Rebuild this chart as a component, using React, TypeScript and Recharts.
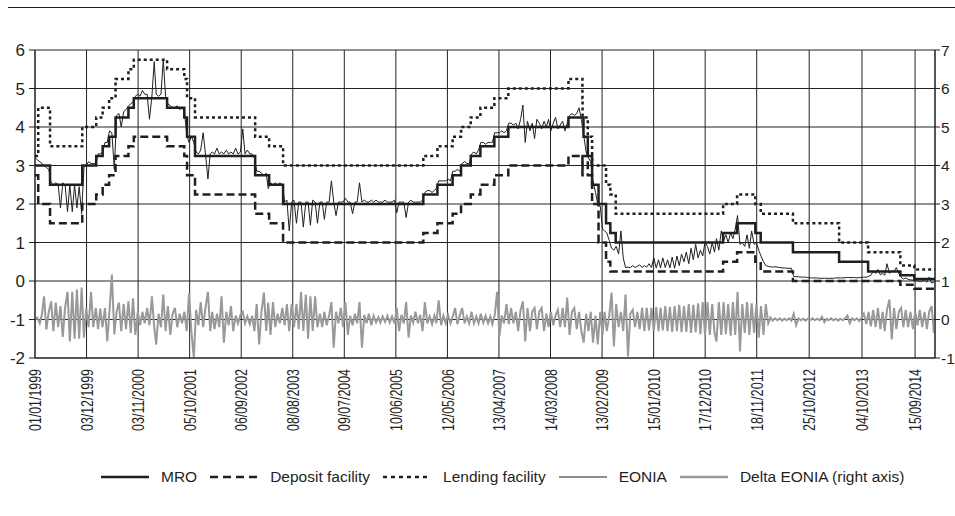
import React from 'react';
import { LineChart, Line, XAxis, YAxis, CartesianGrid } from 'recharts';

// ECB key rates, one row per change date (% p.a.)
const rateDates = [
  '1999-01-01', '1999-01-22', '1999-04-09', '1999-11-05', '2000-02-04', '2000-03-17',
  '2000-04-28', '2000-06-09', '2000-09-01', '2000-10-06', '2001-05-11', '2001-08-31',
  '2001-09-18', '2001-11-09', '2002-12-06', '2003-03-07', '2003-06-06', '2005-12-06',
  '2006-03-08', '2006-06-15', '2006-08-09', '2006-10-11', '2006-12-13', '2007-03-14',
  '2007-06-13', '2008-07-09', '2008-10-08', '2008-10-09', '2008-10-15', '2008-11-12',
  '2008-12-10', '2009-01-21', '2009-03-11', '2009-04-08', '2009-05-13', '2011-04-13',
  '2011-07-13', '2011-11-09', '2011-12-14', '2012-07-11', '2013-05-08', '2013-11-13',
  '2014-06-11', '2014-09-10', '2015-01-23',
];
const mroRate = [
  3.0, 3.0, 2.5, 3.0, 3.25, 3.5, 3.75, 4.25, 4.5, 4.75, 4.5, 4.25, 3.75, 3.25, 2.75,
  2.5, 2.0, 2.25, 2.5, 2.75, 3.0, 3.25, 3.5, 3.75, 4.0, 4.25, 4.25, 4.25, 3.75, 3.25,
  2.5, 2.0, 1.5, 1.25, 1.0, 1.25, 1.5, 1.25, 1.0, 0.75, 0.5, 0.25, 0.15, 0.05, 0.05,
];
const depositRate = [
  2.75, 2.0, 1.5, 2.0, 2.25, 2.5, 2.75, 3.25, 3.5, 3.75, 3.5, 3.25, 2.75, 2.25, 1.75,
  1.5, 1.0, 1.25, 1.5, 1.75, 2.0, 2.25, 2.5, 2.75, 3.0, 3.25, 2.75, 3.25, 3.25, 2.75,
  2.0, 1.0, 0.5, 0.25, 0.25, 0.5, 0.75, 0.5, 0.25, 0.0, 0.0, 0.0, -0.1, -0.2, -0.2,
];
const lendingRate = [
  3.25, 4.5, 3.5, 4.0, 4.25, 4.5, 4.75, 5.25, 5.5, 5.75, 5.5, 5.25, 4.75, 4.25, 3.75,
  3.5, 3.0, 3.25, 3.5, 3.75, 4.0, 4.25, 4.5, 4.75, 5.0, 5.25, 4.75, 4.25, 4.25, 3.75,
  3.0, 3.0, 2.5, 2.25, 1.75, 2.0, 2.25, 2.0, 1.75, 1.5, 1.0, 0.75, 0.4, 0.3, 0.3,
];

// EONIA, read on the 1st and 16th of every month, one row per year from 1999
const eoniaRows = [
  [3.2, 3.15, 3.1, 3.05, 3.0, 2.95, 2.9, 2.55, 2.5, 2.55, 2.5, 1.9, 2.55, 2.5, 1.8, 2.5, 1.8, 2.5, 1.9, 2.45, 1.75, 2.95, 3.0, 3.1],
  [3.05, 3.05, 3.05, 3.3, 3.3, 3.35, 3.6, 3.6, 3.9, 3.85, 2.9, 4.3, 4.35, 4.0, 4.4, 4.45, 4.55, 4.6, 4.65, 4.8, 4.85, 4.8, 4.95, 4.85],
  [4.85, 4.2, 4.8, 5.7, 4.85, 4.8, 4.85, 5.75, 4.8, 4.6, 4.55, 4.5, 4.5, 4.55, 4.45, 4.5, 4.4, 3.8, 3.6, 3.75, 3.6, 3.35, 3.3, 3.4],
  [3.85, 3.3, 2.65, 3.3, 3.35, 3.3, 3.45, 3.3, 3.35, 3.3, 3.4, 3.3, 3.35, 3.3, 3.45, 3.3, 3.35, 3.95, 3.3, 3.4, 3.3, 3.3, 3.2, 2.85],
  [2.85, 2.8, 2.75, 2.8, 2.4, 2.55, 2.5, 2.55, 2.5, 2.55, 2.5, 2.05, 2.1, 1.3, 2.05, 2.1, 1.5, 2.05, 2.05, 1.4, 2.05, 2.05, 1.45, 2.1],
  [2.05, 1.5, 2.05, 2.05, 1.6, 2.05, 2.05, 2.6, 2.05, 1.7, 2.05, 2.05, 2.05, 2.15, 2.05, 2.05, 1.75, 2.05, 2.05, 2.55, 2.05, 2.1, 2.05, 2.05],
  [2.1, 2.05, 2.1, 2.05, 2.05, 2.05, 2.1, 2.05, 2.05, 2.05, 2.1, 1.77, 2.05, 2.05, 2.05, 1.65, 2.05, 2.1, 2.05, 2.05, 2.05, 2.05, 2.1, 2.3],
  [2.35, 2.35, 2.3, 2.35, 2.4, 2.6, 2.6, 2.6, 2.6, 2.65, 2.6, 2.85, 2.85, 2.9, 2.85, 3.05, 3.1, 3.05, 3.05, 3.3, 3.35, 3.3, 3.4, 3.6],
  [3.6, 3.55, 3.6, 3.6, 3.6, 3.85, 3.85, 3.85, 3.9, 3.85, 3.9, 4.1, 4.1, 4.05, 4.1, 3.95, 4.2, 4.57, 3.6, 4.15, 3.9, 4.1, 3.7, 4.2],
  [4.1, 3.95, 4.15, 4.0, 4.2, 3.9, 4.1, 4.25, 3.95, 4.05, 4.15, 3.9, 4.1, 4.3, 4.35, 4.3, 4.35, 4.5, 4.2, 3.8, 3.35, 3.2, 3.1, 2.6],
  [2.3, 2.0, 1.95, 1.35, 1.3, 1.25, 1.05, 0.85, 0.8, 0.9, 0.7, 1.3, 0.6, 0.35, 0.36, 0.35, 0.4, 0.35, 0.38, 0.42, 0.35, 0.4, 0.36, 0.45],
  [0.35, 0.6, 0.34, 0.55, 0.34, 0.6, 0.35, 0.55, 0.34, 0.62, 0.33, 0.65, 0.4, 0.7, 0.5, 0.75, 0.45, 0.85, 0.55, 0.95, 0.6, 0.8, 0.65, 1.0],
  [0.9, 0.7, 1.0, 0.75, 1.1, 0.8, 1.3, 1.05, 1.2, 1.0, 1.25, 1.1, 1.35, 1.7, 0.95, 1.0, 0.9, 1.2, 0.85, 1.3, 0.95, 1.0, 0.8, 0.65],
  [0.5, 0.4, 0.38, 0.37, 0.36, 0.37, 0.36, 0.35, 0.34, 0.34, 0.33, 0.33, 0.33, 0.12, 0.11, 0.11, 0.1, 0.1, 0.1, 0.09, 0.08, 0.08, 0.08, 0.08],
  [0.07, 0.07, 0.07, 0.07, 0.07, 0.07, 0.07, 0.08, 0.08, 0.08, 0.08, 0.09, 0.09, 0.09, 0.09, 0.09, 0.08, 0.09, 0.09, 0.1, 0.1, 0.12, 0.15, 0.25],
  [0.2, 0.3, 0.16, 0.2, 0.15, 0.45, 0.2, 0.25, 0.25, 0.35, 0.2, 0.1, 0.05, 0.08, 0.04, 0.03, 0.02, 0.0, 0.01, -0.01, 0.0, 0.02, -0.03, 0.1],
  [-0.05, -0.03],
];

// Delta EONIA (right axis), same dates as eoniaRows
const deltaRows = [
  [0, 0.05, -0.1, 0.15, 0.6, -0.26, 0.2, 0.47, -0.3, 0.44, -0.2, 0.35, -0.45, 0.3, 0.72, -0.57, 0.72, -0.5, 0.78, -0.5, 0.83, -0.47, 0.3, -0.2],
  [0.72, -0.2, 0.3, -0.25, 0.28, -0.2, 0.3, -0.57, 0.25, 1.17, -0.39, 0.2, 0.44, -0.3, 0.4, -0.25, 0.47, -0.35, 0.55, -0.4, 0.2, -0.15, 0.2, -0.1],
  [0.3, -0.15, 0.6, -0.2, -0.65, 0.15, -0.2, 0.65, -0.3, 0.35, -0.4, 0.15, 0.3, -0.2, 0.15, -0.1, 0.2, -0.3, 0.68, -0.3, -1.0, 0.25, -0.15, 0.45],
  [-0.2, 0.3, 0.72, -0.3, 0.2, -0.25, 0.15, -0.2, 0.6, -0.6, 0.2, -0.15, 0.35, -0.3, 0.1, -0.1, 0.12, 0.2, -0.1, 0.08, -0.12, 0.1, -0.3, 0.4],
  [-0.65, 0.2, 0.7, -0.3, 0.44, -0.4, 0.45, -0.2, 0.15, -0.1, 0.3, -0.15, 0.4, -0.3, 0.4, -0.2, 0.4, -0.25, 0.72, -0.3, 0.65, -0.5, 0.6, -0.3],
  [0.6, -0.2, 0.15, -0.2, 0.2, -0.15, 0.1, 0.45, -0.73, 0.2, -0.1, 0.3, -0.2, 0.45, -0.4, 0.1, -0.15, 0.15, -0.1, 0.45, -0.73, 0.12, -0.1, 0.15],
  [-0.15, 0.1, -0.08, 0.06, -0.08, 0.08, -0.06, 0.1, -0.08, 0.08, -0.1, 0.3, -0.3, 0.12, -0.1, 0.45, -0.47, 0.1, -0.08, 0.2, -0.1, 0.12, -0.3, 0.45],
  [-0.1, 0.08, -0.12, 0.1, -0.1, 0.5, -0.15, 0.1, -0.1, 0.12, -0.1, 0.08, 0.3, -0.12, 0.1, 0.3, -0.1, 0.08, -0.1, 0.2, -0.1, 0.08, -0.1, 0.15],
  [-0.08, 0.1, -0.1, 0.08, -0.12, 0.1, 0.72, -0.44, 0.1, -0.1, 0.4, -0.12, 0.3, -0.1, 0.2, -0.3, 0.25, 0.47, -0.57, 0.3, -0.3, 0.2, 0.3, -0.25],
  [0.2, 0.3, -0.3, 0.15, -0.2, 0.2, -0.15, 0.1, 0.25, -0.2, 0.3, -0.2, 0.57, -0.4, 0.2, 0.3, -0.25, 0.2, -0.3, -0.6, 0.15, -0.3, 0.2, -0.6],
  [0.1, -0.65, 0.2, -0.4, 0.2, -0.3, 0.1, 0.7, -0.7, 0.4, -0.2, 0.2, -0.3, 0.65, -0.96, 0.15, 0.25, -0.2, 0.2, -0.25, 0.3, -0.3, 0.3, -0.28],
  [0.3, -0.3, 0.32, -0.3, 0.3, -0.28, 0.35, -0.3, 0.33, -0.32, 0.35, -0.3, 0.38, -0.33, 0.35, -0.32, 0.4, -0.35, 0.38, -0.33, 0.42, -0.38, 0.45, -0.4],
  [0.45, -0.4, 0.4, -0.35, -0.57, 0.45, -0.4, 0.45, -0.38, 0.4, -0.42, 0.45, -0.4, 0.72, -0.83, 0.4, -0.35, 0.45, -0.4, 0.42, -0.35, 0.4, -0.47, 0.35],
  [-0.4, 0.4, -0.1, 0.05, -0.03, 0.03, -0.02, 0.03, -0.03, 0.02, -0.02, 0.03, -0.03, 0.15, -0.15, 0.03, -0.02, 0.02, -0.03, 0.02, -0.02, 0.03, -0.02, 0.02],
  [-0.02, 0.07, -0.07, 0.02, -0.02, 0.03, -0.02, 0.02, -0.03, 0.02, -0.02, 0.03, 0.1, -0.1, 0.03, -0.02, 0.03, -0.04, 0.05, 0.15, -0.12, 0.2, -0.18, 0.25],
  [-0.2, 0.3, -0.25, 0.2, -0.3, 0.25, 0.52, -0.52, 0.3, -0.25, 0.2, 0.3, -0.2, 0.25, -0.2, 0.2, -0.25, 0.2, -0.15, 0.25, -0.2, 0.2, -0.25, 0.2],
  [0.35, -0.35],
];
const firstYear = 1999;

const tickLabels = [
  '01/01/1999', '03/12/1999', '03/11/2000', '05/10/2001', '06/09/2002', '08/08/2003',
  '09/07/2004', '10/06/2005', '12/05/2006', '13/04/2007', '14/03/2008', '13/02/2009',
  '15/01/2010', '17/12/2010', '18/11/2011', '25/10/2012', '04/10/2013', '15/09/2014',
];
const leftTicks = [-2, -1, 0, 1, 2, 3, 4, 5, 6];
const rightTicks = [-1, 0, 1, 2, 3, 4, 5, 6, 7];

const seriesNames = ['MRO', 'Deposit facility', 'Lending facility', 'EONIA', 'Delta EONIA (right axis)'];

const FONT = "'Liberation Sans', Arial, sans-serif";
const INK = '#1f1f1f';
const GREY = '#999999';

const parseDMY = (s: string) => {
  const [d, m, y] = s.split('/').map(Number);
  return Date.UTC(y, m - 1, d);
};
const halfMonth = (year: number, i: number) => Date.UTC(year, Math.floor(i / 2), i % 2 ? 16 : 1);

const rateData = rateDates.map((d, i) => ({
  t: Date.parse(d),
  mro: mroRate[i],
  deposit: depositRate[i],
  lending: lendingRate[i],
}));
const toPoints = (rows: number[][]) =>
  rows.flatMap((vals, k) => vals.map((v, i) => ({ t: halfMonth(firstYear + k, i), v })));
const eoniaData = toPoints(eoniaRows);
const deltaData = toPoints(deltaRows);

const xTicks = tickLabels.map(parseDMY);
const xDomain = [Date.UTC(1999, 0, 1), Date.UTC(2015, 0, 23)];

const fmt = (t: number) => {
  const d = new Date(t);
  const p = (n: number) => String(n).padStart(2, '0');
  return `${p(d.getUTCDate())}/${p(d.getUTCMonth() + 1)}/${d.getUTCFullYear()}`;
};

// rotated date labels, squeezed to the narrow look of the original
const DateTick = (props: any) => {
  const { x, y, payload } = props;
  return (
    <text
      x={x}
      y={y}
      dy="0.36em"
      transform={`rotate(-90 ${x} ${y})`}
      textAnchor="end"
      fill={INK}
      fontSize={17}
      fontFamily={FONT}
      textLength={62}
      lengthAdjust="spacingAndGlyphs"
    >
      {fmt(payload.value)}
    </text>
  );
};

const legendStyles = [
  { stroke: INK, width: 2.5, dash: undefined as string | undefined },
  { stroke: INK, width: 2.5, dash: '8 5' },
  { stroke: INK, width: 2.5, dash: '4 4' },
  { stroke: INK, width: 1.2, dash: undefined },
  { stroke: GREY, width: 2.5, dash: undefined },
];

const ChartLegend = () => (
  <div
    style={{
      position: 'absolute',
      top: 468,
      left: 101,
      display: 'flex',
      alignItems: 'center',
      fontFamily: FONT,
      fontSize: 15.5,
      color: INK,
      whiteSpace: 'nowrap',
    }}
  >
    {seriesNames.map((name, i) => (
      <div key={name} style={{ display: 'flex', alignItems: 'center', marginRight: 13 }}>
        <svg width={48} height={10}>
          <line
            x1={0}
            y1={5}
            x2={48}
            y2={5}
            stroke={legendStyles[i].stroke}
            strokeWidth={legendStyles[i].width}
            strokeDasharray={legendStyles[i].dash}
          />
        </svg>
        <span style={{ marginLeft: 12 }}>{name}</span>
      </div>
    ))}
  </div>
);

const tickStyle = { fill: INK, fontSize: 17, fontFamily: FONT } as any;

export default function App() {
  return (
    <div style={{ position: 'absolute', top: 0, left: 0, width: 955, height: 516, background: '#fff' }}>
      <div style={{ position: 'absolute', top: 7, left: 8, width: 947, height: 1, background: INK }} />
      <LineChart width={955} height={516} margin={{ top: 50, right: 0, bottom: 58, left: 0 }}>
        <CartesianGrid yAxisId="l" stroke="#222" strokeWidth={1} />
        <XAxis
          type="number"
          dataKey="t"
          domain={xDomain}
          allowDataOverflow
          ticks={xTicks}
          interval={0}
          height={100}
          tickLine={false}
          tickMargin={5}
          axisLine={{ stroke: INK }}
          tick={<DateTick />}
        />
        <YAxis
          yAxisId="l"
          domain={[-2, 6]}
          ticks={leftTicks}
          interval={0}
          width={35}
          tickSize={6}
          tickMargin={4}
          axisLine={{ stroke: INK }}
          tickLine={{ stroke: INK }}
          tick={tickStyle}
        />
        <YAxis
          yAxisId="r"
          orientation="right"
          domain={[-1, 7]}
          ticks={rightTicks}
          interval={0}
          width={20}
          tickSize={5}
          tickMargin={1}
          axisLine={{ stroke: INK }}
          tickLine={{ stroke: INK }}
          tick={{ ...tickStyle, fontSize: 15.5, textAnchor: 'start' }}
        />
        <Line
          yAxisId="r"
          data={deltaData}
          dataKey="v"
          type="linear"
          stroke={GREY}
          strokeWidth={2}
          dot={false}
          isAnimationActive={false}
        />
        <Line
          yAxisId="l"
          data={rateData}
          dataKey="lending"
          type="stepAfter"
          stroke={INK}
          strokeWidth={2.5}
          strokeDasharray="3 3"
          dot={false}
          isAnimationActive={false}
        />
        <Line
          yAxisId="l"
          data={rateData}
          dataKey="deposit"
          type="stepAfter"
          stroke={INK}
          strokeWidth={2.5}
          strokeDasharray="8 4"
          dot={false}
          isAnimationActive={false}
        />
        <Line
          yAxisId="l"
          data={eoniaData}
          dataKey="v"
          type="linear"
          stroke={INK}
          strokeWidth={1}
          dot={false}
          isAnimationActive={false}
        />
        <Line
          yAxisId="l"
          data={rateData}
          dataKey="mro"
          type="stepAfter"
          stroke={INK}
          strokeWidth={2.5}
          dot={false}
          isAnimationActive={false}
        />
      </LineChart>
      <ChartLegend />
    </div>
  );
}
